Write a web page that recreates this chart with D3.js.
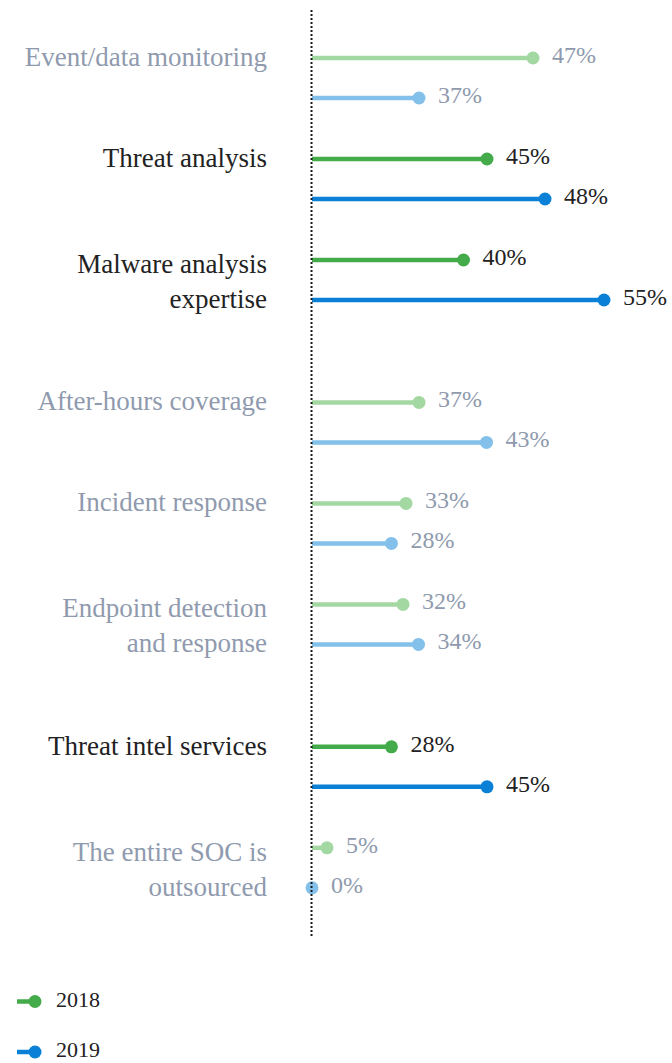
<!DOCTYPE html>
<html>
<head>
<meta charset="utf-8">
<script src="https://cdn.jsdelivr.net/npm/d3@7"></script>
<style>
  html, body { margin: 0; padding: 0; background: #ffffff; }
  svg { display: block; }
</style>
</head>
<body>
<svg id="chart" width="672" height="1063"></svg>
<script>
// ---- data ----
const categories = [
  "Event/data monitoring",
  "Threat analysis",
  "Malware analysis\nexpertise",
  "After-hours coverage",
  "Incident response",
  "Endpoint detection\nand response",
  "Threat intel services",
  "The entire SOC is\noutsourced"
];
const highlighted = ["Threat analysis", "Malware analysis\nexpertise", "Threat intel services"];
const series = ["2018", "2019"];
const values2018 = [47, 45, 40, 37, 33, 32, 28, 5];
const values2019 = [37, 48, 55, 43, 28, 34, 45, 0];

// ---- styles ----
const colors = {
  "2018": { strong: "#43ab4a", faded: "#a4d8a2" },
  "2019": { strong: "#0a80d6", faded: "#83c0ea" }
};
const textDark = "#222222";
const textGray = "#8f9aae";
const serif = "'Liberation Serif', 'Times New Roman', serif";

const svg = d3.select("#chart");

// designer's (non-linear) value axis, piecewise linear
const x = d3.scaleLinear()
  .domain([0, 5, 30, 33, 34, 37, 40, 43, 45, 47, 48, 55])
  .range([312, 327, 397, 406, 418.5, 419, 463.5, 486.5, 487, 533, 545, 604]);

// vertical layout: each category takes one slot, plus extra for a second text line
const lineCount = categories.map(c => c.split("\n").length);
const slotStarts = [];
let acc = 0;
lineCount.forEach(n => { slotStarts.push(acc); acc += 1 + (n - 1) * 0.41; });
const y = d3.scaleLinear().domain([0, 1]).range([58, 159]);
const pairGap = 40;

const rows = categories.map((c, i) => ({
  name: c,
  lines: c.split("\n"),
  hi: highlighted.includes(c),
  y0: y(slotStarts[i]),
  v: { "2018": values2018[i], "2019": values2019[i] }
}));

const g = svg.append("g");

rows.forEach(r => {
  // category label
  const t = g.append("text")
    .attr("text-anchor", "end")
    .attr("font-family", serif)
    .attr("font-size", 27)
    .attr("fill", r.hi ? textDark : textGray);
  if (r.lines.length === 1) {
    t.append("tspan").attr("x", 267).attr("y", r.y0 + 8).text(r.lines[0]);
  } else {
    const mid = r.y0 + pairGap / 2;
    r.lines.forEach((ln, k) => {
      t.append("tspan").attr("x", 267).attr("y", mid - 7 + k * 35).text(ln);
    });
  }

  series.forEach((s, k) => {
    const yy = r.y0 + k * pairGap;
    const col = r.hi ? colors[s].strong : colors[s].faded;
    const v = r.v[s];
    g.append("line")
      .attr("x1", x(0)).attr("x2", x(v))
      .attr("y1", yy).attr("y2", yy)
      .attr("stroke", col).attr("stroke-width", 4.5);
    g.append("circle")
      .attr("cx", x(v)).attr("cy", yy).attr("r", 6.5)
      .attr("fill", col);
    g.append("text")
      .attr("x", x(v) + 19).attr("y", yy + 5)
      .attr("font-family", serif)
      .attr("font-size", 24)
      .attr("fill", r.hi ? textDark : textGray)
      .text(v + "%");
  });
});

// dotted axis
svg.append("line")
  .attr("x1", 311.5).attr("x2", 311.5)
  .attr("y1", 10).attr("y2", 936)
  .attr("stroke", "#1a1a1a").attr("stroke-width", 2)
  .attr("stroke-dasharray", "2,2");

// legend
const legend = svg.append("g");
series.forEach((s, k) => {
  const ly = 1001.5 + k * 50.5;
  legend.append("line")
    .attr("x1", 17).attr("x2", 35).attr("y1", ly).attr("y2", ly)
    .attr("stroke", colors[s].strong).attr("stroke-width", 4.5);
  legend.append("circle")
    .attr("cx", 35).attr("cy", ly).attr("r", 6.5)
    .attr("fill", colors[s].strong);
  legend.append("text")
    .attr("x", 56).attr("y", ly + 5)
    .attr("font-family", serif)
    .attr("font-size", 22)
    .attr("fill", textDark)
    .text(s);
});
</script>
</body>
</html>
